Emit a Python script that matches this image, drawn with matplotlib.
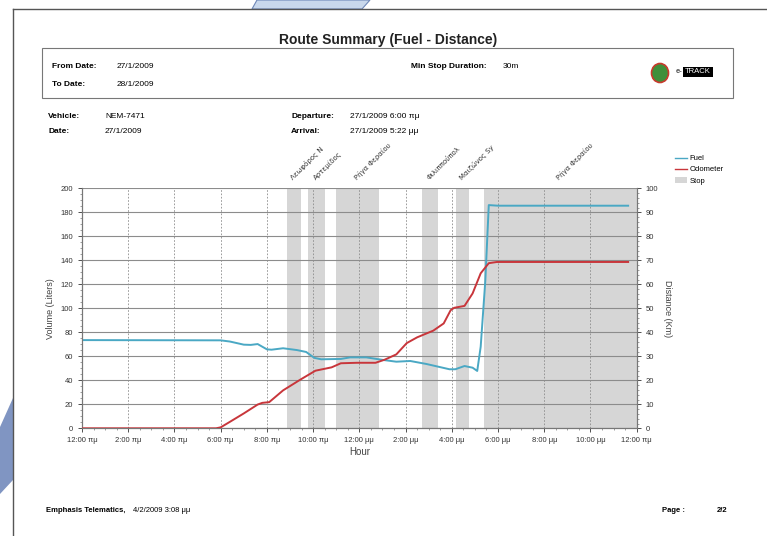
import matplotlib
matplotlib.use("Agg")
import matplotlib.pyplot as plt
from matplotlib.lines import Line2D
from matplotlib.patches import Patch, Polygon, Ellipse, Rectangle
from matplotlib.transforms import blended_transform_factory

plt.rcParams["font.family"] = ["Liberation Sans", "DejaVu Sans"]

# fuel volume (liters) over the day, hours from midnight
fuel_hours = [0, 6.0, 6.4, 7.0, 7.3, 7.6, 8.0, 8.2, 8.7, 9.3, 9.7, 10.05, 10.35,
              11.2, 11.6, 12.3, 13.05, 13.6, 14.2, 14.9, 15.9, 16.15, 16.55,
              16.9, 17.1, 17.25, 17.45, 17.6, 18.0, 23.63]
fuel_liters = [73.5, 73.3, 72.3, 69.7, 69.5, 70.2, 65.8, 65.5, 66.7, 65.2, 63.6,
               58.7, 57.5, 57.8, 59.1, 59.1, 56.9, 55.5, 56.1, 53.6, 49.2, 49.2,
               51.9, 50.5, 47.8, 68.0, 123.0, 186.0, 185.5, 185.5]

# odometer (km)
odo_hours = [0, 5.8, 6.0, 6.4, 7.0, 7.6, 7.8, 8.1, 8.7, 9.45, 10.1, 10.5, 10.8,
             11.2, 11.9, 12.7, 13.1, 13.6, 14.05, 14.5, 15.2, 15.65, 15.95,
             16.1, 16.55, 16.9, 17.25, 17.6, 17.95, 23.63]
odo_km = [0, 0, 0.4, 2.7, 6.2, 9.9, 10.6, 10.9, 15.8, 20.3, 24.0, 24.8, 25.4,
          27.1, 27.3, 27.3, 28.6, 30.8, 35.5, 37.9, 40.7, 43.7, 49.2, 50.2,
          51.0, 56.2, 64.6, 68.8, 69.3, 69.3]

# stops: start hour, end hour, place name
stop_start = [8.87, 9.77, 11.01, 14.70, 16.19, 17.39]
stop_end = [9.48, 10.52, 12.83, 15.41, 16.74, 24.0]
stop_names = ["Λεωφόρος Ν", "Αρτεμίδος", "Ρήγα Φεραίου", "Φιλιππούπολ",
              "Μαιζώνος Sy", "Ρήγα Φεραίου"]

tick_hours = list(range(0, 25, 2))
tick_labels = ["12:00 πμ", "2:00 πμ", "4:00 πμ", "6:00 πμ", "8:00 πμ",
               "10:00 πμ", "12:00 μμ", "2:00 μμ", "4:00 μμ", "6:00 μμ",
               "8:00 μμ", "10:00 μμ", "12:00 πμ"]

W, H = 767, 536
fig = plt.figure(figsize=(W / 100, H / 100), dpi=100)


def fx(x):
    return x / W


def fy(y):
    return 1 - y / H


def ftext(x, y, s, bold=False, size=6, **kw):
    fig.text(fx(x), fy(y), s, fontsize=size,
             fontweight="bold" if bold else "normal", va="center", **kw)


# page decorations
fig.add_artist(Polygon([(fx(257), fy(0)), (fx(370), fy(0)), (fx(362), fy(9)),
                        (fx(252), fy(9))], closed=True, facecolor="#c9d8ec",
                       edgecolor="#6f88b8", lw=0.8))
fig.add_artist(Polygon([(fx(0), fy(427)), (fx(13), fy(398)), (fx(13), fy(480)),
                        (fx(0), fy(494))], closed=True, facecolor="#8095c2",
                       edgecolor="none"))
fig.add_artist(Line2D([fx(13), fx(13)], [fy(9), fy(536)], color="#555555", lw=1))
fig.add_artist(Line2D([fx(13), fx(767)], [fy(9), fy(9)], color="#555555", lw=1))

# header
fig.text(fx(388), fy(40), "Route Summary (Fuel - Distance)", fontsize=10,
         fontweight="bold", ha="center", va="center", color="#222222")
fig.add_artist(Rectangle((fx(42), fy(98)), fx(733) - fx(42), fy(48) - fy(98),
                         fill=False, edgecolor="#777777", lw=0.8))
ftext(52, 67, "From Date:", bold=True)
ftext(117, 67, "27/1/2009")
ftext(52, 84, "To Date:", bold=True)
ftext(117, 84, "28/1/2009")
ftext(411, 67, "Min Stop Duration:", bold=True)
ftext(503, 67, "30m")
fig.add_artist(Ellipse((fx(660), fy(73)), fx(17), 19 / H,
                       transform=fig.transFigure, facecolor="#3f8f3a",
                       edgecolor="#c83a2c", lw=1.2))
ftext(676, 72, "e-", size=5.5, bold=True, color="#555555")
fig.text(fx(685), fy(72), "TRACK", fontsize=5.5, color="white", va="center",
         bbox=dict(facecolor="black", edgecolor="none", pad=1.2))

ftext(48, 117, "Vehicle:", bold=True)
ftext(105, 117, "NEM-7471")
ftext(48, 132, "Date:", bold=True)
ftext(105, 132, "27/1/2009")
ftext(291, 117, "Departure:", bold=True)
ftext(350, 117, "27/1/2009 6:00 πμ")
ftext(291, 132, "Arrival:", bold=True)
ftext(350, 132, "27/1/2009 5:22 μμ")

# footer
ftext(46, 511, "Emphasis Telematics,", bold=True, size=5.5)
ftext(133, 511, "4/2/2009 3:08 μμ", size=5.5)
ftext(662, 511, "Page :", bold=True, size=5.5)
ftext(717, 511, "2/2", bold=True, size=5.5)

# chart
ax = fig.add_axes([fx(82), fy(428.3), fx(636.7) - fx(82), fy(188.3) - fy(428.3)])
ax2 = ax.twinx()

for s, e in zip(stop_start, stop_end):
    ax.axvspan(s, e, color="#d6d6d6", lw=0, zorder=0)

ax.set_xlim(0, 24)
ax.set_ylim(0, 200)
ax2.set_ylim(0, 100)
ax.set_yticks(range(0, 201, 20))
ax2.set_yticks(range(0, 101, 10))
ax.set_xticks(tick_hours)
ax.set_xticklabels(tick_labels)
ax.minorticks_on()
ax2.minorticks_on()
ax.grid(axis="y", which="major", color="#8c8c8c", lw=0.8, zorder=1)
ax.grid(axis="x", which="major", color="#8c8c8c", lw=0.6, ls=(0, (2, 2)), zorder=1)
ax.set_axisbelow(True)

ax.plot(fuel_hours, fuel_liters, color="#4aa8c4", lw=1.4, zorder=3)
ax2.plot(odo_hours, odo_km, color="#c8363b", lw=1.4, zorder=3)

for a in (ax, ax2):
    a.tick_params(labelsize=5.5, colors="#333333", length=3, width=0.6)
    a.tick_params(which="minor", length=1.5, width=0.5, colors="#777777")
    for sp in a.spines.values():
        sp.set_color("#777777")
        sp.set_linewidth(0.8)
    a.spines["top"].set_visible(False)

ax.set_ylabel("Volume (Liters)", fontsize=6.5, color="#444444", labelpad=4)
ax2.set_ylabel("Distance (Km)", fontsize=6.5, color="#444444", rotation=270,
               labelpad=10)
ax.set_xlabel("Hour", fontsize=7, color="#444444", labelpad=2)

trans = blended_transform_factory(ax.transData, ax.transAxes)
for s, e, name in zip(stop_start, stop_end, stop_names):
    ax.text((s + e) / 2, 1.03, name, transform=trans, rotation=45,
            rotation_mode="anchor", ha="left", va="bottom", fontsize=5,
            color="#333333", family=["DejaVu Sans"])

handles = [Line2D([], [], color="#4aa8c4", lw=1),
           Line2D([], [], color="#c8363b", lw=1),
           Patch(facecolor="#d6d6d6", edgecolor="none")]
fig.legend(handles, ["Fuel", "Odometer", "Stop"], loc="upper left",
           bbox_to_anchor=(fx(668), fy(148)), frameon=False, fontsize=5.5,
           handlelength=1.6, handletextpad=0.3, labelspacing=0.5)

fig.savefig("out.png", dpi=100)
